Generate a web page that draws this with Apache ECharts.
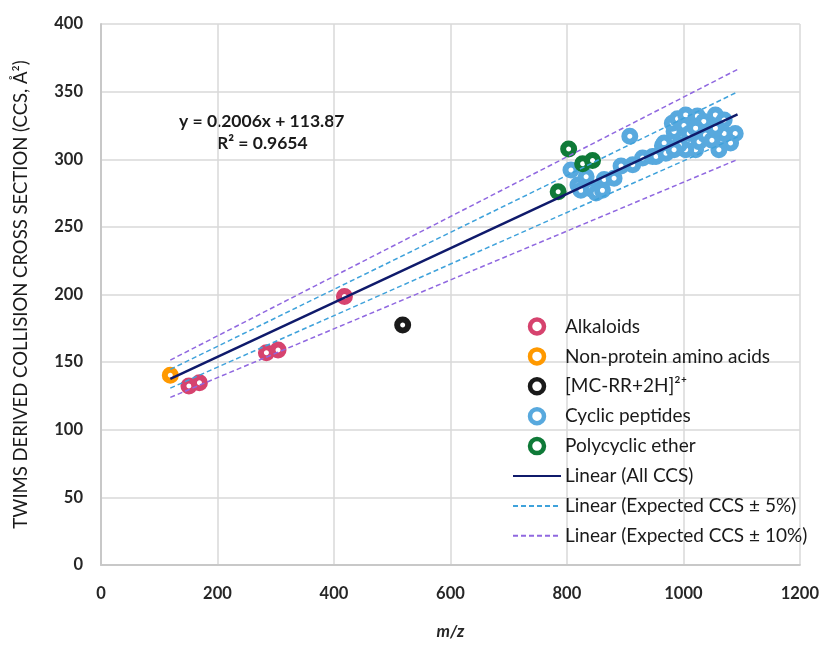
<!DOCTYPE html>
<html>
<head>
<meta charset="utf-8">
<script src="https://cdn.jsdelivr.net/npm/echarts@6/dist/echarts.min.js"></script>
<style>html,body{margin:0;padding:0;background:#fff;}#c{width:822px;height:646px;}</style>
</head>
<body>
<div id="c"></div>
<script>
var xTicks = [0, 200, 400, 600, 800, 1000, 1200];
var yTicks = [0, 50, 100, 150, 200, 250, 300, 350, 400];

var alkaloids = [[151,132.4],[169,134.8],[284,157],[304,159],[418,198.5]];
var aminoAcids = [[119,140.3]];
var mcrr = [[518,177.5]];
var cyclicPeptides = [
  [908,317],[807,292],[819,281],[833,287],[824,277],[842,278],[850,275],[861,277],[864,285],
  [881,286],[893,295],[913,296],[930,301],[947,302],[953,302],[964,310],[967,312],[970,304.5],
  [984,320.5],[981,326.7],[990,330],[1004,332.8],[1024,332],[1035,328],[1055,332.8],[1070,329],
  [1070,319],[1089,319],[1081,312],[1061,307],[1021,307],[1004,307],[993,310.7],[1001,325],
  [1010,319],[1027,313],[1038,318],[1049,314],[1055,323],[1021,323],[984,307]
];
var polycyclicEther = [[803,307.5],[827,296.6],[844,299],[785,276]];

var fitAll = [[119,137.7],[1093,333.1]];
var fitPlus5 = [[119,144.6],[1093,349.8]];
var fitMinus5 = [[119,130.8],[1093,316.5]];
var fitPlus10 = [[119,151.5],[1093,366.4]];
var fitMinus10 = [[119,123.9],[1093,299.8]];

var FONT = 'Lato';
var names = ['Alkaloids', 'Non-protein amino acids', '[MC-RR+2H]²⁺', 'Cyclic peptides', 'Polycyclic ether',
  'Linear (All CCS)', 'Linear (Expected CCS ± 5%)', 'Linear (Expected CCS ± 10%)'];
var colors = ['#D6436E', '#FF9900', '#1a1a1a', '#58A9DE', '#0F7A38', '#0F1A6B', '#3FA2DB', '#9068E0'];

function ring(i, data) {
  return {
    name: names[i], type: 'scatter', data: data, symbol: 'circle', symbolSize: 11,
    itemStyle: { color: '#ffffff', borderColor: colors[i], borderWidth: 6, opacity: 1 },
    emphasis: { disabled: true },
    z: 3
  };
}
function fline(i, data, type, width) {
  return {
    name: names[i], type: 'line', data: data, symbol: 'none', silent: true,
    lineStyle: { color: colors[i], type: type, width: width },
    itemStyle: { color: colors[i] },
    z: 4
  };
}
var legendData = names.map(function (n, i) {
  if (i < 5) {
    return { name: n, icon: 'circle', itemStyle: { color: '#ffffff', borderColor: colors[i], borderWidth: 4.5 } };
  }
  return { name: n, itemStyle: { opacity: 0 } };
});

var chart = echarts.init(document.getElementById('c'));
chart.setOption({
  animation: false,
  backgroundColor: '#ffffff',
  grid: { left: 101, right: 20, top: 24, bottom: 81 },
  xAxis: {
    type: 'value', min: 0, max: 1200, interval: 200,
    name: 'm/z', nameLocation: 'middle', nameGap: 58,
    nameTextStyle: { fontFamily: FONT, fontSize: 17, fontStyle: 'italic', fontWeight: 'bold', color: '#262626' },
    axisLine: { show: true, lineStyle: { color: '#c8c8c8', width: 2 } },
    axisTick: { show: false },
    axisLabel: { fontFamily: FONT, fontSize: 16.5, fontWeight: 'bold', color: '#262626', margin: 20,
      formatter: function (v) { return xTicks.indexOf(v) >= 0 ? String(v) : ''; } },
    splitLine: { show: true, lineStyle: { color: '#d9d9d9', width: 1.5 } }
  },
  yAxis: {
    type: 'value', min: 0, max: 400, interval: 50,
    name: 'TWIMS DERIVED COLLISION CROSS SECTION (CCS, Å²)', nameLocation: 'middle', nameGap: 70,
    nameTextStyle: { fontFamily: FONT, fontSize: 18.5, color: '#1a1a1a' },
    axisLine: { show: true, lineStyle: { color: '#c8c8c8', width: 2 } },
    axisTick: { show: false },
    axisLabel: { fontFamily: FONT, fontSize: 16.5, fontWeight: 'bold', color: '#262626', margin: 18,
      formatter: function (v) { return yTicks.indexOf(v) >= 0 ? String(v) : ''; } },
    splitLine: { show: true, lineStyle: { color: '#d9d9d9', width: 1.5 } }
  },
  legend: {
    orient: 'vertical', left: 512, top: 317, padding: 0,
    itemWidth: 48, itemHeight: 14, itemGap: 10.9,
    textStyle: { fontFamily: FONT, fontSize: 19, color: '#1a1a1a', padding: [0, 0, 0, -1] },
    data: legendData
  },
  graphic: [
    { type: 'text', left: 179, top: 112, style: { text: 'y = 0.2006x + 113.87', font: 'bold 17.5px Lato', fill: '#1a1a1a' } },
    { type: 'text', left: 217, top: 134, style: { text: 'R² = 0.9654', font: 'bold 17.5px Lato', fill: '#1a1a1a' } }
  ],
  series: [
    ring(0, alkaloids),
    ring(1, aminoAcids),
    ring(2, mcrr),
    ring(3, cyclicPeptides),
    ring(4, polycyclicEther),
    fline(5, fitAll, 'solid', 2.5),
    fline(6, fitPlus5, [5, 3], 1.5),
    fline(6, fitMinus5, [5, 3], 1.5),
    fline(7, fitPlus10, [5, 3], 1.5),
    fline(7, fitMinus10, [5, 3], 1.5)
  ]
});
</script>
</body>
</html>
